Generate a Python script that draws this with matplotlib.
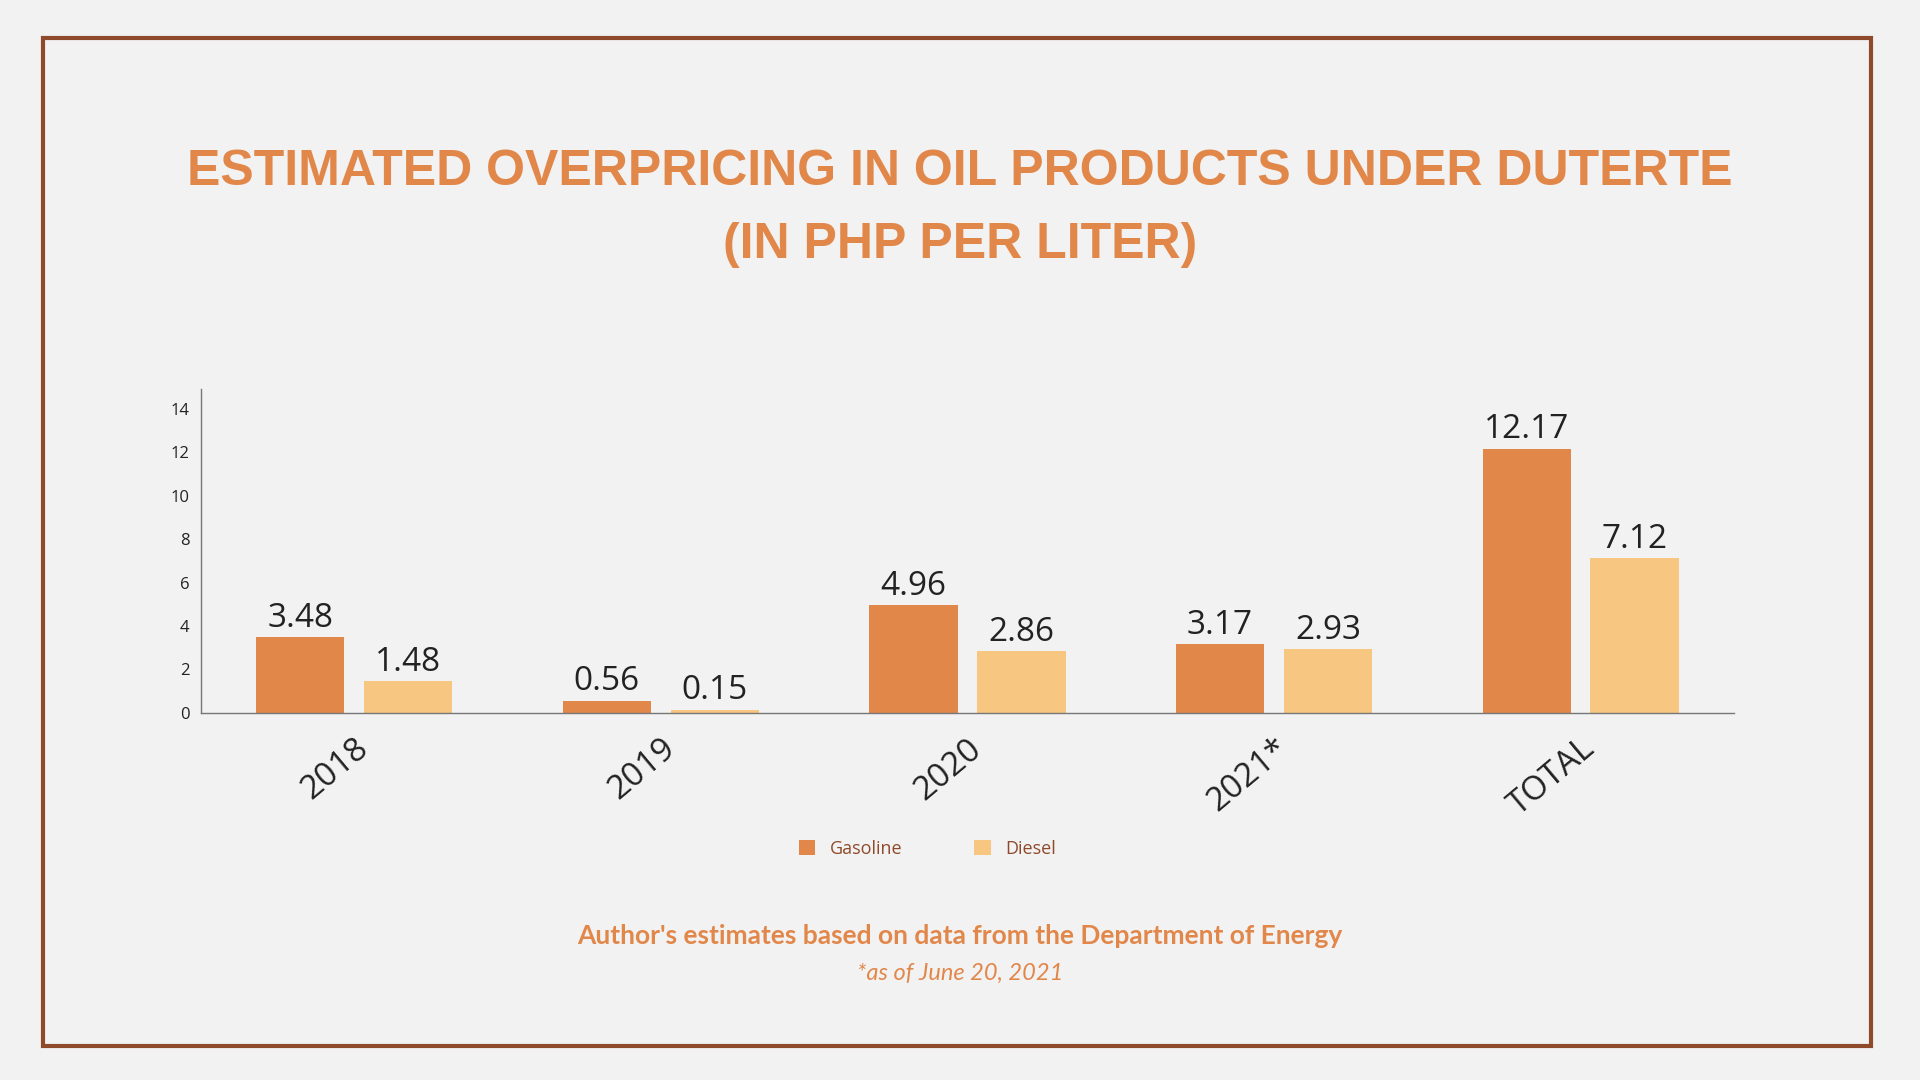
import matplotlib
matplotlib.use("Agg")
import matplotlib.pyplot as plt
from matplotlib.patches import Rectangle
import numpy as np

categories = ["2018", "2019", "2020", "2021*", "TOTAL"]
gasoline = [3.48, 0.56, 4.96, 3.17, 12.17]
diesel = [1.48, 0.15, 2.86, 2.93, 7.12]
yticks = [0, 2, 4, 6, 8, 10, 12, 14]

GAS = "#E2874A"
DIE = "#F7C680"
BG = "#F2F2F2"
TXT = "#222222"

fig = plt.figure(figsize=(19.2, 10.8), dpi=100, facecolor=BG)
fig.patches.append(Rectangle((0.0223, 0.0317), 0.9522, 0.9333, transform=fig.transFigure,
                             fill=False, edgecolor="#8E4A2A", linewidth=3))

for y, s in ((0.841, "ESTIMATED OVERPRICING IN OIL PRODUCTS UNDER DUTERTE"),
             (0.773, "(IN PHP PER LITER)")):
    fig.text(0.5, y, s, ha="center", va="center", fontsize=36, fontweight="bold",
             color="#E2874A", family=["Liberation Sans", "DejaVu Sans"])

ax = fig.add_axes([0.1046, 0.340, 0.7985, 0.2995])
ax.set_facecolor(BG)
x = np.arange(len(categories))
w = 0.288
off = 0.176
b1 = ax.bar(x - off, gasoline, w, color=GAS, label="Gasoline")
b2 = ax.bar(x + off, diesel, w, color=DIE, label="Diesel")
for bars, vals in ((b1, gasoline), (b2, diesel)):
    for r, v in zip(bars, vals):
        ax.text(r.get_x() + r.get_width() / 2, v + 0.1, f"{v:.2f}", ha="center", va="bottom",
                fontsize=24, color=TXT, family="Open Sans")
ax.set_xlim(-0.5, 4.5)
ax.set_ylim(0, 14.9)
ax.set_yticks(yticks)
ax.set_yticklabels([str(t) for t in yticks], fontsize=12, color=TXT, family="Open Sans")
ax.set_xticks(x)
ax.set_xticklabels(categories, rotation=40, ha="right", rotation_mode="anchor",
                   fontsize=24, color=TXT, family="Open Sans")
ax.tick_params(axis="x", length=0, pad=14)
ax.tick_params(axis="y", length=0, pad=8)
for s in ("top", "right"):
    ax.spines[s].set_visible(False)
for s in ("left", "bottom"):
    ax.spines[s].set_color("#777777")
    ax.spines[s].set_linewidth(1)

leg = fig.legend(handles=[b1, b2], loc="center", bbox_to_anchor=(0.483, 0.214), ncol=2,
                 frameon=False, handlelength=0.9, handleheight=0.9,
                 columnspacing=4, prop={"family": "Open Sans", "size": 13})
for t in leg.get_texts():
    t.set_color("#8E4A2A")

fig.text(0.5, 0.133, "Author's estimates based on data from the Department of Energy",
         ha="center", va="center", fontsize=19, fontweight="bold", color="#E2874A", family="Lato")
fig.text(0.5, 0.099, "*as of June 20, 2021", ha="center", va="center", fontsize=17,
         style="italic", color="#E2874A", family="Lato")

fig.savefig("out.png", dpi=100, facecolor=BG)
